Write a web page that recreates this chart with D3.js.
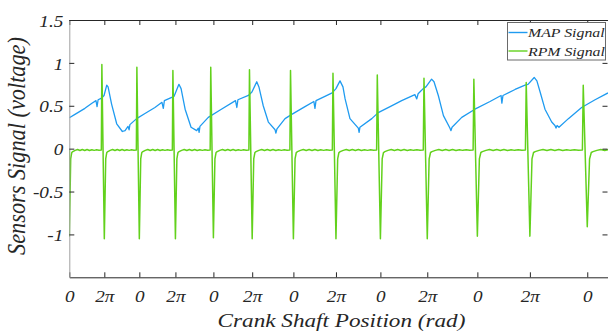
<!DOCTYPE html>
<html>
<head>
<meta charset="utf-8">
<script src="https://cdn.jsdelivr.net/npm/d3@7"></script>
<style>
  html, body { margin: 0; padding: 0; background: #fff; }
  svg { display: block; }
  text { font-family: "Liberation Serif", "Times New Roman", serif; font-style: italic; fill: #262626; }
</style>
</head>
<body>
<svg id="chart" width="608" height="334"></svg>
<script>
// ---- data (time in ms, signal in volts) ----
const crankTicks = [0, 13.0, 26.0, 39.4, 53.5, 67.9, 83.2, 99.0, 115.5, 132.9, 151.5, 171.0, 192.3];
const crankTickLabels = ["0", "2π", "0", "2π", "0", "2π", "0", "2π", "0", "2π", "0", "2π", "0"];
const rpmPeaks = [0.98, 0.95, 0.91, 0.95, 0.92, 0.91, 0.88, 0.86, 0.82, 0.81, 0.77, 0.74];
const rpmTroughs = [-1.02, -1.05, -1.05, -1.05, -1.04, -1.05, -1.05, -1.05, -1.05, -1.05, -1.02, -1.02, -0.91];
const rpmRipple = [-0.035, -0.02, -0.01, -0.022, -0.01, -0.022, -0.01, -0.022, -0.012, -0.02, -0.014, -0.018, -0.015];

const mapTime = [0, 2.1, 5.8, 8.4, 9.9, 10.3, 10.7, 12.0, 12.9, 13.9, 14.4, 15.7, 17.6, 19.7, 20.7, 21.8, 22.2, 22.5, 25.0, 28.1,
  31.8, 34.4, 34.9, 35.3, 37.4, 38.9, 39.8, 40.7, 41.5, 43.0, 45.2, 47.3, 47.9, 48.2, 48.5, 51.6, 56.0, 61.7, 62.2, 62.6,
  66.5, 67.8, 69.6, 70.4, 72.0, 73.9, 76.4, 76.7, 77.1, 80.1, 82.6, 87.5, 90.8, 91.2, 91.6, 94.9, 97.6, 99.0, 100.5, 101.6,
  102.4, 104.2, 107.3, 107.6, 107.9, 112.3, 114.7, 119.1, 123.4, 128.3, 129.0, 129.5, 131.4, 132.4, 134.5, 135.4, 137.0, 138.9, 141.3, 141.7,
  142.1, 145.7, 150.6, 156.2, 160.3, 160.6, 161.0, 165.5, 169.2, 170.3, 172.6, 173.6, 174.8, 176.6, 179.1, 180.3, 180.7, 181.1, 181.8, 185.3,
  190.2, 195.2, 200.0];
const mapVolt = [0.36, 0.40, 0.47, 0.53, 0.56, 0.49, 0.57, 0.59, 0.62, 0.74, 0.72, 0.52, 0.29, 0.20, 0.21, 0.26, 0.22, 0.28, 0.35, 0.41,
  0.48, 0.54, 0.47, 0.56, 0.59, 0.61, 0.68, 0.75, 0.70, 0.46, 0.25, 0.21, 0.24, 0.19, 0.26, 0.365, 0.45, 0.56, 0.48, 0.57,
  0.62, 0.66, 0.78, 0.72, 0.50, 0.31, 0.22, 0.18, 0.23, 0.35, 0.40, 0.49, 0.55, 0.47, 0.56, 0.61, 0.65, 0.70, 0.79, 0.72,
  0.58, 0.35, 0.24, 0.19, 0.25, 0.35, 0.42, 0.49, 0.56, 0.63, 0.58, 0.64, 0.70, 0.72, 0.81, 0.78, 0.62, 0.385, 0.24, 0.21,
  0.25, 0.365, 0.46, 0.55, 0.62, 0.53, 0.62, 0.69, 0.74, 0.75, 0.83, 0.79, 0.66, 0.46, 0.31, 0.27, 0.24, 0.27, 0.25, 0.35,
  0.48, 0.57, 0.65];
const yTicks = [-1, -0.5, 0, 0.5, 1, 1.5];
const seriesNames = ["MAP Signal", "RPM Signal"];
const seriesColors = ["#1f9bf0", "#62d11c"];

// ---- build series ----
const mapData = mapTime.map((t, i) => [t, mapVolt[i]]);
const rpmData = [];
crankTicks.forEach((t, i) => {
  const P = i > 0 ? t - crankTicks[i - 1] : crankTicks[1] - crankTicks[0];
  if (i > 0) {
    rpmData.push([t - 0.085 * P, -0.015]);
    rpmData.push([t - 0.07 * P, rpmPeaks[i - 1]]);
  } else {
    rpmData.push([t, -0.015]);
  }
  rpmData.push([t, rpmTroughs[i]]);
  rpmData.push([t + 0.04 * P, -0.12]);
  rpmData.push([t + 0.07 * P, -0.045]);
  const next = i < crankTicks.length - 1 ? crankTicks[i + 1] : t + P;
  const Pn = next - t;
  const s = t + 0.1 * P, e = next - 0.085 * Pn;
  rpmRipple.forEach((v, k) => rpmData.push([s + (e - s) * k / (rpmRipple.length - 1), v]));
});

// ---- layout ----
const svg = d3.select("#chart");
const L = 69.3, R = 608, T = 20, B = 277.3;
const SX = 1.2; // horizontal stretch of the lettering in the reference
const x = d3.scaleLinear().domain([0, 200]).range([L, R]);
const y = d3.scaleLinear().domain([-1.5, 1.5]).range([B, T]);

svg.append("defs").append("clipPath").attr("id", "clip")
  .append("rect").attr("x", L).attr("y", T).attr("width", R - L).attr("height", B - T);

const line = d3.line().x(d => x(d[0])).y(d => y(d[1]));
const plot = svg.append("g").attr("clip-path", "url(#clip)");
plot.append("path").datum(mapData).attr("d", line)
  .attr("fill", "none").attr("stroke", seriesColors[0]).attr("stroke-width", 1.3).attr("stroke-linejoin", "round");
plot.append("path").datum(rpmData).attr("d", line)
  .attr("fill", "none").attr("stroke", seriesColors[1]).attr("stroke-width", 1.5).attr("stroke-linejoin", "round");

// ---- axes ----
const axisColor = "#262626";
const xb = svg.append("g").attr("transform", `translate(0,${B})`)
  .call(d3.axisBottom(x).tickValues(crankTicks).tickSizeInner(-5).tickSizeOuter(0)
    .tickFormat((d, i) => crankTickLabels[i]));
const xt = svg.append("g").attr("transform", `translate(0,${T})`)
  .call(d3.axisTop(x).tickValues(crankTicks).tickSizeInner(-5).tickSizeOuter(0).tickFormat(""));
const yl = svg.append("g").attr("transform", `translate(${L},0)`)
  .call(d3.axisLeft(y).tickValues(yTicks).tickSizeInner(-5).tickSizeOuter(0)
    .tickFormat(d => String(d)));
const yr = svg.append("g").attr("transform", `translate(${R - 0.5},0)`)
  .call(d3.axisRight(y).tickValues(yTicks).tickSizeInner(-5).tickSizeOuter(0).tickFormat(""));
yr.select(".domain").remove();

[xb, xt, yl, yr].forEach(g => {
  g.selectAll(".domain").attr("stroke", axisColor);
  g.selectAll(".tick line").attr("stroke", axisColor);
  g.selectAll("text").attr("fill", "#262626").style("font-size", "16px")
    .style("font-family", '"Liberation Serif", serif').style("font-style", "italic");
});
yl.select(".domain").attr("stroke", "#a0a0a0");
xb.selectAll(".tick text").attr("y", 0).attr("dy", 0).attr("x", 0)
  .attr("transform", `translate(0,24.5) scale(${SX},1)`);
yl.selectAll(".tick text").attr("x", 0)
  .attr("transform", `translate(-6,1) scale(${SX},1)`);

// ---- axis titles ----
svg.append("text").attr("text-anchor", "middle")
  .attr("transform", `translate(341.5,327) scale(1.22,1)`)
  .style("font-size", "19px").text("Crank Shaft Position (rad)");
svg.append("text").attr("text-anchor", "middle")
  .attr("transform", `translate(25,146) scale(1.12,1) rotate(-90)`)
  .style("font-size", "22.3px").text("Sensors Signal (voltage)");

// ---- legend ----
const lg = svg.append("g");
lg.append("rect").attr("x", 507.5).attr("y", 22.5).attr("width", 98).attr("height", 37.5)
  .attr("fill", "#fff").attr("stroke", "#6a6a6a").attr("stroke-width", 1);
seriesNames.forEach((n, i) => {
  const yy = 32.5 + i * 18.5;
  lg.append("line").attr("x1", 508.5).attr("x2", 527.5).attr("y1", yy).attr("y2", yy)
    .attr("stroke", seriesColors[i]).attr("stroke-width", 1.4);
  lg.append("text").attr("transform", `translate(528,${yy + 4.5}) scale(1.2,1)`)
    .style("font-size", "13.2px").text(n);
});
</script>
</body>
</html>
